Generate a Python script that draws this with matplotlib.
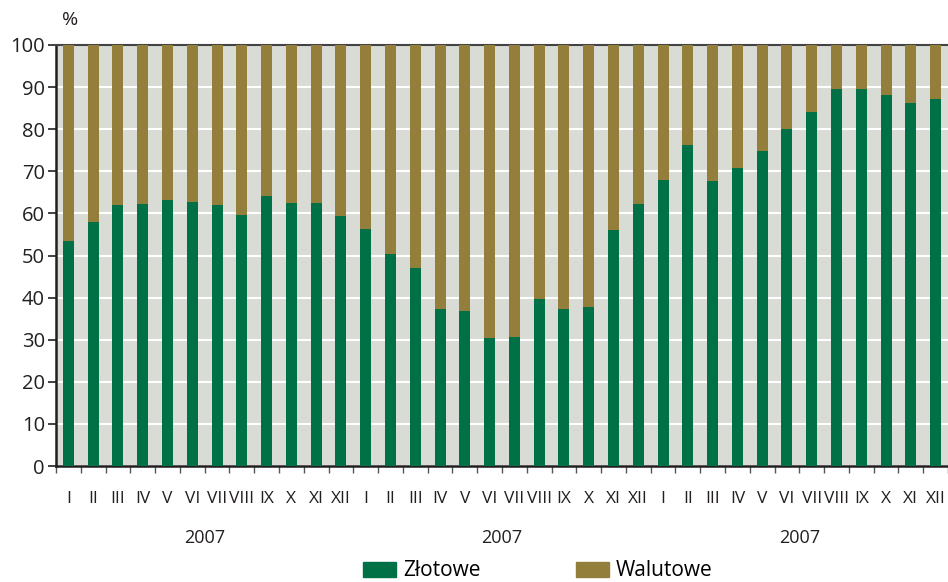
import matplotlib
matplotlib.use('Agg')

from matplotlib import pyplot as plt
from matplotlib.patches import Patch
import numpy as np

plt.rcParams['font.family'] = ['Open Sans', 'DejaVu Sans']

months = ['I', 'II', 'III', 'IV', 'V', 'VI', 'VII', 'VIII', 'IX', 'X', 'XI', 'XII']
years = ['2007', '2007', '2007']
month_labels = months * 3

zlotowe = [53.4, 58.0, 62.0, 62.2, 63.2, 62.7, 62.0, 59.6, 64.1, 62.5, 62.5, 59.4,
           56.3, 50.4, 47.0, 37.3, 36.8, 30.4, 30.6, 39.7, 37.3, 37.8, 56.1, 62.2,
           67.9, 76.2, 67.7, 70.8, 74.8, 80.0, 84.1, 89.5, 89.5, 88.1, 86.2, 87.2]
walutowe = [100 - v for v in zlotowe]

GREEN = '#007046'
OLIVE = '#937F3B'
BG = '#D8DCD5'
DARK = '#231F20'


def main():
    fig = plt.figure(figsize=(9.48, 5.82), dpi=100)
    ax = fig.add_axes([56 / 948, 1 - 466 / 582, 1 - 56 / 948, 421 / 582])
    ax.set_facecolor(BG)

    x = np.arange(len(zlotowe))
    ax.bar(x, zlotowe, width=0.44, color=GREEN, zorder=3)
    ax.bar(x, walutowe, width=0.44, bottom=zlotowe, color=OLIVE, zorder=3)

    ax.set_xlim(-0.5, len(zlotowe) - 0.5)
    ax.set_ylim(0, 100)
    ax.set_yticks(np.arange(0, 101, 10))
    ax.yaxis.grid(True, color='white', linewidth=1.5, zorder=1)
    ax.tick_params(axis='y', direction='out', length=6, width=1.2,
                   color=DARK, labelsize=14.5, labelcolor=DARK, pad=2)

    ax.set_xticks(x)
    ax.set_xticklabels(month_labels)
    ax.set_xticks(np.arange(-0.5, len(zlotowe), 1), minor=True)
    ax.tick_params(axis='x', which='major', length=0, labelsize=12.5,
                   labelcolor=DARK, pad=18)
    ax.tick_params(axis='x', which='minor', length=5, width=1.0, color='#555555')

    for side in ['left', 'bottom']:
        ax.spines[side].set_color(DARK)
        ax.spines[side].set_linewidth(1.8)
    ax.spines['top'].set_color('#444444')
    ax.spines['top'].set_linewidth(1.5)
    ax.spines['right'].set_visible(False)

    for i, year in enumerate(years):
        ax.text(i * 12 + 5.5, -17, year, ha='center', va='center',
                fontsize=13, color=DARK)

    fig.text(70 / 948, 1 - 20 / 582, '%', ha='center', va='center',
             fontsize=14, color=DARK)

    handles = [Patch(color=GREEN, label='Złotowe'),
               Patch(color=OLIVE, label='Walutowe')]
    fig.legend(handles=handles, loc='center', bbox_to_anchor=(538 / 948, 1 - 571 / 582),
               ncol=2, frameon=False, fontsize=15, handlelength=1.55,
               handleheight=0.7, columnspacing=4.6, handletextpad=0.35,
               borderpad=0.1)

    fig.savefig('out.png', dpi=100)


if __name__ == '__main__':
    main()
